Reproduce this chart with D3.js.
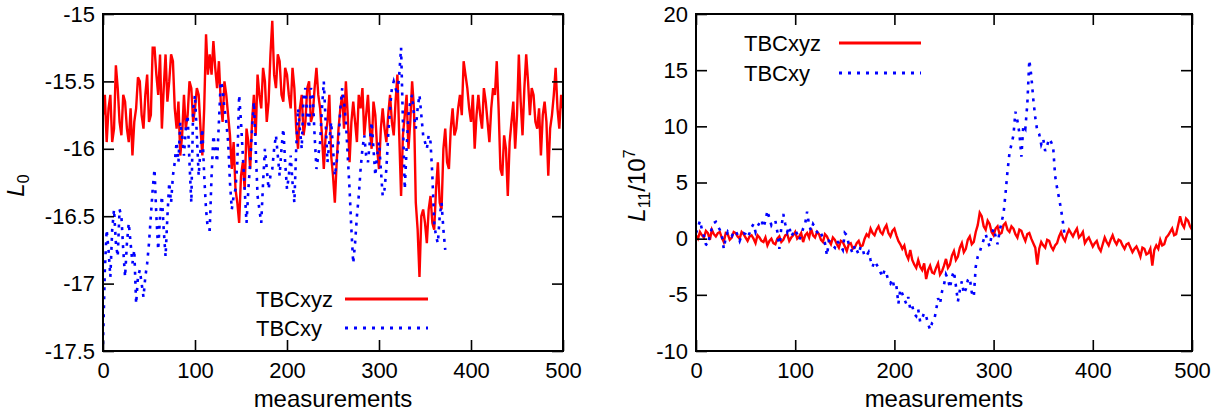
<!DOCTYPE html>
<html><head><meta charset="utf-8">
<script src="https://cdn.jsdelivr.net/npm/d3@7"></script>
<style>
body{margin:0;background:#fff}
svg{display:block}
text{font-family:"Liberation Sans",Arial,Helvetica,sans-serif;fill:#000}
</style>
</head><body>
<svg id="chart" width="1223" height="416"></svg>
<script>
// ---------- data ----------
const seriesNames = ["TBCxyz", "TBCxy"];
const xTicks = [0, 100, 200, 300, 400, 500];
const xTickLabels = ["0", "100", "200", "300", "400", "500"];
const leftYTicks = [-17.5, -17, -16.5, -16, -15.5, -15];
const leftYTickLabels = ["-17.5", "-17", "-16.5", "-16", "-15.5", "-15"];
const rightYTicks = [-10, -5, 0, 5, 10, 15, 20];
const rightYTickLabels = ["-10", "-5", "0", "5", "10", "15", "20"];
const sampleStep = 2; // measurements between stored samples

// L0, TBCxyz (measurement 0..500 every 2)
const L0_TBCxyz = [
 -15.75,-15.6,-15.95,-15.7,-15.6,-15.95,-15.85,-15.38,-15.55,-15.8,
 -15.9,-15.6,-15.65,-15.85,-15.95,-15.7,-16.05,-15.8,-15.7,-15.47,
 -15.5,-15.75,-15.85,-15.6,-15.45,-15.8,-15.75,-15.25,-15.25,-15.45,
 -15.6,-15.3,-15.85,-15.55,-15.3,-15.65,-15.5,-15.3,-15.35,-15.7,
 -15.85,-15.65,-16.05,-15.9,-15.6,-15.85,-15.75,-15.5,-15.55,-15.8,
 -15.7,-15.55,-15.6,-15.85,-16.05,-15.7,-15.15,-15.45,-15.3,-15.45,
 -15.2,-15.4,-15.55,-15.35,-15.65,-15.8,-15.5,-15.6,-15.75,-15.9,
 -16.15,-15.95,-16.3,-16.4,-16.55,-16.2,-16.1,-16.3,-15.85,-15.95,
 -16.15,-15.8,-15.6,-15.9,-15.45,-15.6,-15.7,-15.4,-15.5,-15.8,
 -15.65,-15.3,-15.05,-15.45,-15.55,-15.3,-15.35,-15.6,-15.65,-15.4,
 -15.45,-15.6,-15.7,-15.4,-15.55,-15.85,-16.0,-15.7,-15.6,-15.9,
 -15.8,-15.55,-15.5,-15.8,-15.75,-15.55,-15.4,-15.6,-15.7,-15.9,
 -16.15,-15.9,-15.8,-15.6,-16.05,-16.2,-16.4,-16.1,-15.85,-15.7,
 -15.6,-15.85,-15.5,-15.75,-16.1,-15.8,-15.65,-15.8,-15.95,-15.6,
 -15.7,-15.55,-15.9,-15.75,-15.6,-15.85,-16.0,-15.65,-15.75,-16.0,
 -16.15,-15.85,-15.7,-15.85,-15.95,-15.75,-15.6,-15.8,-15.9,-15.65,
 -15.45,-15.9,-16.35,-15.9,-15.75,-15.6,-16.0,-15.8,-15.5,-15.7,
 -16.4,-16.6,-16.95,-16.5,-16.45,-16.55,-16.7,-16.45,-16.35,-16.55,
 -16.6,-16.3,-16.1,-16.4,-16.45,-16.0,-15.85,-16.1,-16.15,-15.85,
 -15.7,-15.9,-15.85,-15.7,-15.6,-15.75,-15.35,-15.45,-15.55,-15.7,
 -15.8,-15.6,-16.0,-15.75,-15.6,-15.75,-15.85,-15.55,-15.65,-15.8,
 -15.95,-15.7,-15.55,-15.6,-15.35,-15.7,-16.15,-16.2,-15.9,-16.0,
 -16.35,-15.95,-15.8,-15.65,-16.0,-15.75,-15.3,-15.65,-15.9,-15.55,
 -15.3,-15.5,-15.75,-15.55,-15.6,-15.8,-15.85,-15.7,-16.05,-15.75,
 -15.65,-15.8,-16.2,-15.85,-15.75,-15.6,-15.4,-15.7,-15.85,-15.6,
 -15.7
];
// L0, TBCxy (measurement 0..372 every 2)
const L0_TBCxy = [
 -17.45,-16.9,-16.6,-16.75,-16.95,-16.6,-16.45,-16.7,-16.8,-16.45,
 -16.5,-16.75,-16.95,-16.7,-16.55,-16.7,-16.85,-16.75,-17.15,-16.95,
 -16.9,-17.0,-17.1,-16.95,-16.85,-16.7,-16.5,-16.3,-16.15,-16.5,
 -16.75,-16.5,-16.35,-16.6,-16.8,-16.5,-16.25,-16.4,-16.2,-16.1,
 -15.95,-16.1,-15.8,-15.9,-16.05,-15.85,-15.75,-16.1,-16.4,-15.7,
 -15.6,-15.9,-16.2,-16.0,-15.85,-16.2,-16.45,-16.6,-16.6,-16.2,
 -15.9,-16.0,-16.1,-15.8,-15.5,-15.55,-15.7,-15.8,-15.95,-16.25,
 -16.45,-16.35,-16.3,-16.1,-15.6,-15.8,-16.05,-16.3,-16.55,-16.3,
 -16.1,-15.85,-15.65,-16.0,-16.35,-16.45,-16.55,-16.25,-16.0,-16.15,
 -16.3,-16.2,-16.15,-16.0,-15.9,-16.05,-16.2,-16.0,-15.85,-16.1,
 -16.3,-16.2,-16.05,-16.25,-16.4,-16.0,-15.7,-15.85,-16.0,-15.6,
 -15.55,-15.75,-15.85,-15.55,-15.6,-15.9,-16.15,-16.05,-15.95,-15.7,
 -15.5,-15.8,-16.1,-15.95,-15.8,-16.0,-16.2,-16.1,-15.95,-15.7,
 -15.55,-15.65,-15.8,-16.05,-16.3,-16.6,-16.85,-16.7,-16.5,-16.35,
 -16.15,-16.0,-15.9,-16.05,-16.1,-15.95,-15.8,-16.0,-16.2,-16.05,
 -15.95,-16.15,-16.35,-16.3,-16.15,-15.9,-15.7,-15.55,-15.5,-15.55,
 -15.6,-15.45,-15.25,-15.8,-16.3,-16.0,-15.75,-15.65,-15.6,-15.75,
 -15.85,-15.7,-15.6,-15.75,-15.9,-15.95,-16.0,-15.9,-15.95,-16.2,
 -16.55,-16.65,-16.7,-16.5,-16.4,-16.6,-16.75
];
// L11/1e7, TBCxyz (measurement 0..500 every 2)
const L11_TBCxyz = [
 0.3,0.0,0.6,0.3,0.1,0.7,0.5,-0.1,0.8,0.4,
 0.2,0.5,0.6,0.1,-0.3,0.5,0.4,-0.1,0.1,0.6,
 0.5,0.2,0.0,0.6,0.4,0.1,-0.2,0.2,0.3,0.0,
 -0.4,0.3,0.1,-0.2,-0.3,0.1,-0.6,-0.2,0.0,-0.4,
 -0.5,0.0,0.2,-0.3,-0.1,0.3,0.4,-0.2,0.1,0.3,
 0.6,0.0,0.2,0.5,-0.3,0.3,0.5,0.1,0.9,0.3,
 0.1,0.6,0.4,-0.1,-0.3,0.4,0.2,-0.2,-0.5,0.1,
 -0.1,-0.5,-0.8,-0.2,-0.3,-0.7,-1.1,-0.5,-0.4,-0.9,
 -0.8,-0.4,-0.2,-0.7,-0.6,0.0,0.4,0.2,0.9,0.5,
 0.3,0.8,1.1,0.6,0.4,0.9,1.2,0.5,0.2,0.7,
 0.9,0.3,-0.2,-0.5,-0.9,-0.6,-1.4,-1.8,-1.0,-1.9,
 -2.3,-2.6,-1.9,-2.5,-2.8,-2.2,-3.6,-2.8,-2.4,-3.0,
 -3.1,-2.6,-2.2,-3.2,-2.9,-2.4,-1.8,-2.6,-2.3,-1.5,
 -1.1,-1.9,-1.6,-0.8,-0.4,-1.2,-0.9,-0.1,0.2,-0.5,
 -0.3,0.6,1.2,2.3,2.0,1.1,0.8,1.6,1.3,0.6,
 0.3,0.9,1.1,0.4,0.5,1.2,1.4,0.8,0.6,1.1,
 0.9,0.4,0.1,0.8,0.7,0.2,-0.2,0.4,0.5,0.0,
 -0.4,-0.8,-2.3,-0.9,-0.3,-0.6,-0.8,-0.1,-0.2,-0.7,
 -1.0,-0.6,-0.4,0.2,0.6,0.1,-0.2,0.4,0.8,0.5,
 0.2,0.6,0.9,0.1,0.3,0.6,-0.4,-0.1,0.1,-0.3,
 -0.7,-0.4,-0.2,-0.8,-1.1,-0.5,0.1,-0.3,-0.6,-0.1,
 0.3,-0.2,-0.5,-0.1,-0.2,-0.6,-0.9,-0.5,-0.4,-0.8,
 -1.2,-0.9,-0.7,-1.1,-1.6,-0.8,-0.9,-1.4,-1.3,-0.9,
 -2.4,-1.0,-0.6,-0.9,-0.1,-0.6,-0.5,0.1,0.3,0.6,
 0.9,0.3,0.4,1.2,2.0,1.3,1.0,1.8,1.6,1.1,
 0.8
];
// L11/1e7, TBCxy (measurement 0..372 every 2)
const L11_TBCxy = [
 0.5,1.0,1.6,0.8,0.2,-0.5,-0.6,0.4,0.9,1.4,
 1.5,1.1,0.8,0.3,-0.9,0.1,0.6,0.3,0.2,0.6,
 0.7,0.3,-0.2,0.3,0.5,0.4,0.1,0.5,1.0,1.3,
 0.6,1.1,1.4,1.7,1.0,1.6,2.5,1.8,1.2,1.5,
 1.6,0.6,-0.9,1.0,2.2,1.3,0.6,1.1,0.2,0.5,
 0.8,0.4,-0.1,0.3,0.9,1.3,2.4,1.2,0.7,1.3,
 1.0,0.6,0.3,0.5,0.0,-0.4,-1.5,-0.2,-0.3,-0.6,
 -0.8,-0.2,-0.4,-0.7,-1.0,0.5,0.3,-0.5,-0.9,-1.3,
 -0.6,-1.0,-1.4,-0.7,-0.9,-1.6,-1.5,-1.2,-1.9,-2.5,
 -2.0,-2.3,-2.6,-3.0,-3.4,-2.8,-3.1,-3.8,-4.0,-3.6,
 -4.4,-4.2,-5.8,-4.5,-4.9,-5.4,-5.8,-5.2,-6.3,-6.0,
 -6.7,-6.9,-6.3,-7.4,-7.1,-6.6,-6.9,-7.6,-8.1,-7.5,
 -7.3,-6.4,-5.3,-5.8,-4.7,-4.1,-3.2,-3.6,-4.4,-3.4,
 -2.9,-4.2,-5.6,-4.6,-3.8,-4.9,-4.5,-3.7,-3.5,-4.8,
 -5.2,-2.5,-1.6,-1.2,-0.6,-0.1,0.4,-0.2,-0.7,0.3,
 0.9,0.2,-0.5,0.6,1.5,2.2,4.0,6.0,7.6,8.4,
 9.2,11.3,10.5,9.4,7.3,10.1,9.8,12.0,15.9,14.5,
 12.4,10.8,9.6,9.3,8.4,8.9,7.8,8.3,8.9,8.6,
 8.2,5.6,4.5,3.6,2.6,1.4,0.0
];

// ---------- drawing ----------
const svg = d3.select("#chart");
const colors = ["#ff0000", "#0000ff"];
const FONT = 22;

function panel(cfg) {
  const x = d3.scaleLinear().domain([0, 500]).range([cfg.x0, cfg.x1]);
  const y = d3.scaleLinear().domain(cfg.yDomain).range([cfg.y1, cfg.y0]);
  const g = svg.append("g");
  const clipId = "clip" + cfg.id;
  svg.append("clipPath").attr("id", clipId).append("rect")
    .attr("x", cfg.x0).attr("y", cfg.y0).attr("width", cfg.x1 - cfg.x0).attr("height", cfg.y1 - cfg.y0);

  const line = d3.line().x((d, i) => x(i * sampleStep)).y(d => y(d));
  const lines = g.append("g").attr("clip-path", `url(#${clipId})`);
  lines.append("path").datum(cfg.series[0]).attr("d", line)
    .attr("fill", "none").attr("stroke", colors[0]).attr("stroke-width", 2.4).attr("stroke-linejoin", "miter");
  lines.append("path").datum(cfg.series[1]).attr("d", line)
    .attr("fill", "none").attr("stroke", colors[1]).attr("stroke-width", 2.6).attr("stroke-dasharray", "3,6");

  const fmtX = d => xTickLabels[xTicks.indexOf(d)];
  const fmtY = d => cfg.yLabels[cfg.yTicks.indexOf(d)];
  const ax = (gen, tx, ty) => {
    const a = g.append("g").attr("transform", `translate(${tx},${ty})`).call(gen);
    a.select(".domain").remove();
    a.selectAll(".tick line").attr("stroke", "#000").attr("stroke-width", 1.6);
    a.selectAll("text").attr("font-size", FONT).attr("font-family", null).attr("fill", "#000");
    return a;
  };
  ax(d3.axisBottom(x).tickValues(xTicks).tickFormat(fmtX).tickSize(-11).tickPadding(11), 0, cfg.y1);
  ax(d3.axisTop(x).tickValues(xTicks).tickFormat("").tickSize(-11), 0, cfg.y0);
  ax(d3.axisLeft(y).tickValues(cfg.yTicks).tickFormat(fmtY).tickSize(-11).tickPadding(8), cfg.x0, 0);
  ax(d3.axisRight(y).tickValues(cfg.yTicks).tickFormat("").tickSize(-11), cfg.x1, 0);

  g.append("rect").attr("x", cfg.x0).attr("y", cfg.y0)
    .attr("width", cfg.x1 - cfg.x0).attr("height", cfg.y1 - cfg.y0)
    .attr("fill", "none").attr("stroke", "#000").attr("stroke-width", 2);

  // x title
  g.append("text").attr("x", (cfg.x0 + cfg.x1) / 2).attr("y", 407)
    .attr("text-anchor", "middle").attr("font-size", 24).text("measurements");

  // y title
  const yt = g.append("text").attr("transform", `translate(${cfg.ytx},${(cfg.y0 + cfg.y1) / 2 + 3}) rotate(-90)`)
    .attr("text-anchor", "middle").attr("font-size", 24);
  cfg.ytitle(yt);

  // legend
  seriesNames.forEach((name, i) => {
    const ly = cfg.legY + i * cfg.legDy;
    g.append("text").attr("x", cfg.legX).attr("y", ly + 8).attr("font-size", FONT).text(name);
    const l = g.append("line").attr("x1", cfg.legL0).attr("x2", cfg.legL1).attr("y1", ly).attr("y2", ly)
      .attr("stroke", colors[i]).attr("stroke-width", i === 0 ? 3 : 2.8);
    if (i === 1) l.attr("stroke-dasharray", "3,6");
  });
}

panel({
  id: "L", x0: 103, x1: 563, y0: 14, y1: 351,
  yDomain: [-17.5, -15], yTicks: leftYTicks, yLabels: leftYTickLabels,
  series: [L0_TBCxyz, L0_TBCxy],
  ytx: 24,
  ytitle: t => {
    t.append("tspan").attr("font-style", "italic").text("L");
    t.append("tspan").attr("font-size", 16).attr("dy", 5).text("0");
  },
  legX: 256, legY: 299, legDy: 29, legL0: 345, legL1: 428
});

panel({
  id: "R", x0: 696, x1: 1192, y0: 14, y1: 351,
  yDomain: [-10, 20], yTicks: rightYTicks, yLabels: rightYTickLabels,
  series: [L11_TBCxyz, L11_TBCxy],
  ytx: 645,
  ytitle: t => {
    t.append("tspan").attr("font-style", "italic").text("L");
    t.append("tspan").attr("font-size", 16).attr("dy", 5).text("11");
    t.append("tspan").attr("dy", -5).text("/10");
    t.append("tspan").attr("font-size", 16).attr("dy", -10).text("7");
  },
  legX: 744, legY: 43, legDy: 30, legL0: 839, legL1: 921
});
</script>
</body></html>
